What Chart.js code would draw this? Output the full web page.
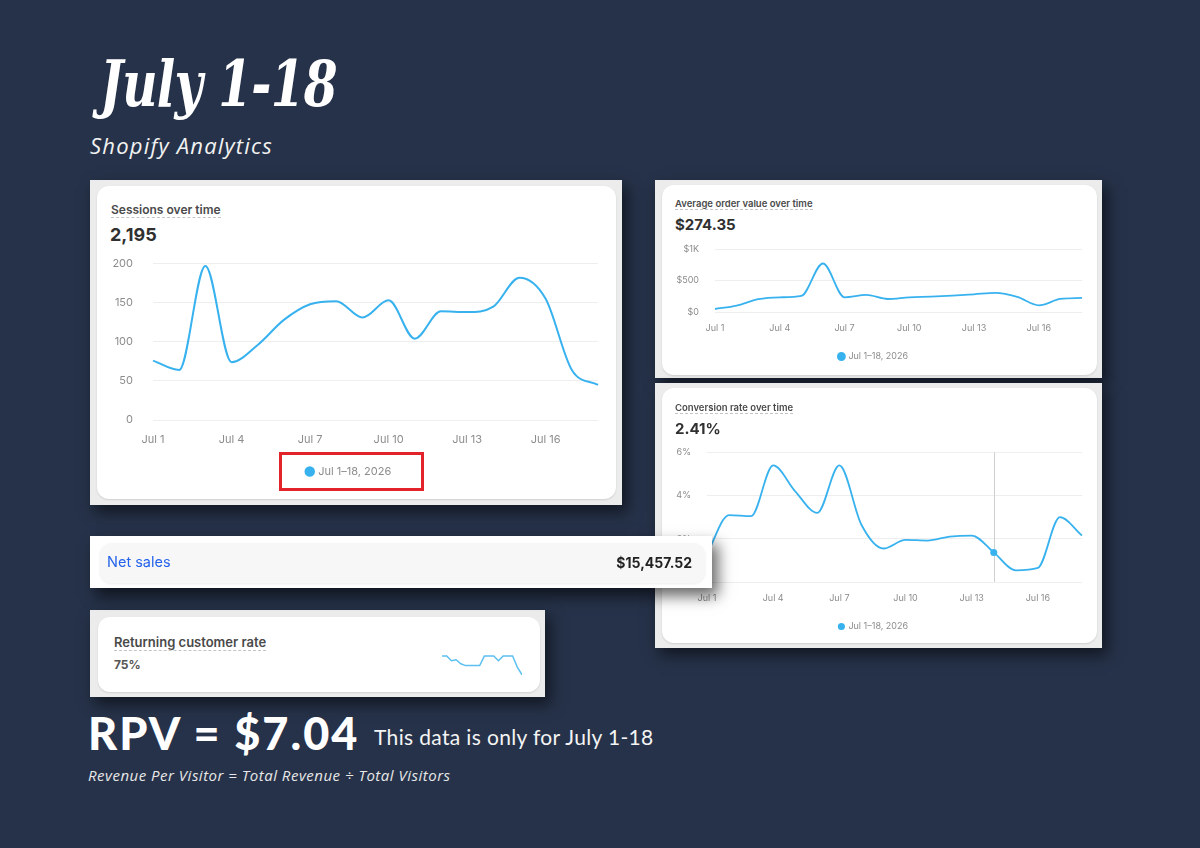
<!DOCTYPE html>
<html>
<head>
<meta charset="utf-8">
<script src="https://cdn.jsdelivr.net/npm/chart.js@4.4.1/dist/chart.umd.min.js"></script>
<style>
  html, body { margin: 0; padding: 0; }
  body { width: 1200px; height: 848px; background: #263249; position: relative; overflow: hidden; font-family: Inter, "Open Sans", sans-serif; }
  .abs { position: absolute; }
  .frame { position: absolute; background: #ececec; box-shadow: 5px 7px 14px rgba(0,0,0,0.55); }
  .card { position: absolute; background: #fff; border-radius: 12px; box-shadow: 0 1px 2px rgba(0,0,0,0.12); }
  .title { position: absolute; color: #4a4a4a; font-weight: 600; border-bottom: 1px dashed #c4c4c4; white-space: nowrap; }
  .big { position: absolute; color: #303030; font-weight: 700; white-space: nowrap; }
  canvas { position: absolute; }
  .page { position: absolute; color: #fff; white-space: nowrap; font-family: Lato, sans-serif; }
</style>
</head>
<body>

<div class="page" style="left:100px; top:46px; font-size:64px; font-style:italic; font-weight:700; letter-spacing:-1px; font-family: 'DejaVu Serif', serif; transform: scaleX(0.76); transform-origin: left;">July 1-18</div>
<div class="page" style="left:90px; top:130px; font-size:22px; letter-spacing:1.2px; font-style:italic; color:#f2f2f2; font-family: 'Open Sans', sans-serif;">Shopify Analytics</div>

<!-- sessions -->
<div class="frame" style="left:90px; top:180px; width:532px; height:325px;"></div>
<div class="card" style="left:97px; top:186px; width:519px; height:313px;"></div>
<div class="title" style="left:111px; top:202px; font-size:12px;">Sessions over time</div>
<div class="big" style="left:110px; top:224px; font-size:18px;">2,195</div>
<canvas id="sessionsChart" width="510" height="254" style="left:100px; top:237px;"></canvas>
<div class="abs" style="left:279px; top:452px; width:139px; height:33px; border:3px solid #e2232a;"></div>

<!-- average order value -->
<div class="frame" style="left:655px; top:180px; width:447px; height:198px;"></div>
<div class="card" style="left:662px; top:185px; width:435px; height:190px;"></div>
<div class="title" style="left:675px; top:198px; font-size:9.5px;">Average order value over time</div>
<div class="big" style="left:675px; top:215px; font-size:15px;">$274.35</div>
<canvas id="aovChart" width="428" height="144" style="left:665px; top:228px;"></canvas>

<!-- conversion rate -->
<div class="frame" style="left:655px; top:383px; width:447px; height:265px;"></div>
<div class="card" style="left:662px; top:388px; width:435px; height:255px;"></div>
<div class="title" style="left:675px; top:402px; font-size:9.5px;">Conversion rate over time</div>
<div class="big" style="left:675px; top:419px; font-size:15px;">2.41%</div>
<canvas id="convChart" width="428" height="211" style="left:665px; top:431px;"></canvas>

<!-- net sales -->
<div class="frame" style="left:90px; top:536px; width:622px; height:52px; background:#fff; z-index:5; box-shadow: 6px 8px 14px rgba(0,0,0,0.6);"></div>
<div class="card" style="left:100px; top:543px; width:605px; height:40px; background:#f7f7f7; z-index:6; box-shadow: 0 1px 3px rgba(0,0,0,0.08);"></div>
<div class="abs" style="left:107px; top:553px; font-size:14.5px; color:#2563eb; z-index:7;">Net sales</div>
<div class="abs" style="right:508px; top:554px; font-size:14px; font-weight:700; color:#222; z-index:7;">$15,457.52</div>

<!-- returning customer rate -->
<div class="frame" style="left:90px; top:610px; width:455px; height:87px;"></div>
<div class="card" style="left:98px; top:617px; width:442px; height:75px;"></div>
<div class="title" style="left:114px; top:634px; font-size:13px;">Returning customer rate</div>
<div class="big" style="left:114px; top:657px; font-size:12px; color:#555;">75%</div>
<canvas id="returnChart" width="80" height="21" style="left:442px; top:655px;"></canvas>

<div class="page" style="left:88px; top:706px; font-size:45px; font-weight:900; letter-spacing:2px;">RPV = $7.04</div>
<div class="page" style="left:374px; top:724px; font-size:21px; letter-spacing:0.35px; color:#f4f4f4;">This data is only for July 1-18</div>
<div class="page" style="left:88px; top:765px; font-size:15px; letter-spacing:0.5px; font-style:italic; color:#e8e8e8; font-family: 'Open Sans', sans-serif;">Revenue Per Visitor = Total Revenue ÷ Total Visitors</div>

<script>
var dayLabels = ["Jul 1", "Jul 2", "Jul 3", "Jul 4", "Jul 5", "Jul 6", "Jul 7", "Jul 8", "Jul 9",
    "Jul 10", "Jul 11", "Jul 12", "Jul 13", "Jul 14", "Jul 15", "Jul 16", "Jul 17", "Jul 18"];
var rangeLabel = "Jul 1\u201318, 2026";

var sessions = [76, 64, 197, 74, 96, 128, 148, 152, 131, 153, 104, 139, 138, 145, 182, 155, 64, 45];
var orderValue = [48, 102, 205, 235, 257, 775, 235, 272, 208, 235, 246, 262, 283, 305, 241, 107, 208, 225];
var conversion = [1.3, 3.1, 3.05, 5.4, 4.2, 3.2, 5.4, 2.65, 1.55, 1.95, 1.92, 2.1, 2.15, 1.37, 0.54, 0.65, 3.0, 2.15];
var returningRate = [80, 80, 75.5, 76.5, 72.6, 70.9, 70.9, 70.9, 70.9, 80, 80, 80, 75.5, 80, 80, 80, 69.5, 62.2];

var hoverIndex = 13;
var lineBlue = "#38b2ef";
var tickGrey = "#8c8c8c";
var gridGrey = "#eeeeee";

function everyThird(val, i) {
    return i % 3 === 0 ? this.getLabelForValue(val) : null;
}

// Sessions
new Chart(document.getElementById("sessionsChart"), {
    type: 'line',
    data: {
        labels: dayLabels,
        datasets: [{
            label: rangeLabel,
            data: sessions,
            borderColor: lineBlue,
            backgroundColor: lineBlue,
            borderWidth: 2,
            pointRadius: 0,
            fill: false,
            cubicInterpolationMode: 'monotone'
        }]
    },
    options: {
        responsive: false,
        animation: false,
        layout: { padding: { top: 0, right: 12, left: 0, bottom: 4 } },
        plugins: {
            tooltip: { enabled: false },
            legend: {
                position: 'bottom',
                labels: { usePointStyle: true, pointStyle: 'circle', boxWidth: 6, boxHeight: 6, color: tickGrey, padding: 10,
                    font: { family: 'Inter', size: 11 } }
            }
        },
        scales: {
            x: {
                grid: { display: false, drawTicks: false },
                border: { display: false },
                ticks: { autoSkip: false, maxRotation: 0, padding: 13, color: tickGrey, font: { family: 'Inter', size: 11 }, callback: everyThird },
                afterFit: function (scale) { scale.height = 36; }
            },
            y: {
                min: 0, max: 200,
                grid: { color: gridGrey, drawTicks: false },
                border: { display: false },
                ticks: { stepSize: 50, padding: 20, color: tickGrey, font: { family: 'Inter', size: 11 } },
                afterFit: function (scale) { scale.width = 53; }
            }
        }
    }
});

// Average order value
new Chart(document.getElementById("aovChart"), {
    type: 'line',
    data: {
        labels: dayLabels,
        datasets: [{
            label: rangeLabel,
            data: orderValue,
            borderColor: lineBlue,
            backgroundColor: lineBlue,
            borderWidth: 1.8,
            pointRadius: 0,
            fill: false,
            cubicInterpolationMode: 'monotone'
        }]
    },
    options: {
        responsive: false,
        animation: false,
        layout: { padding: { top: 4, right: 11, left: 0, bottom: 1 } },
        plugins: {
            tooltip: { enabled: false },
            legend: {
                position: 'bottom',
                labels: { usePointStyle: true, pointStyle: 'circle', boxWidth: 5, boxHeight: 5, color: tickGrey, padding: 10,
                    font: { family: 'Inter', size: 9 } }
            }
        },
        scales: {
            x: {
                grid: { display: false, drawTicks: false },
                border: { display: false },
                ticks: { autoSkip: false, maxRotation: 0, padding: 11, color: tickGrey, font: { family: 'Inter', size: 9 }, callback: everyThird },
                afterFit: function (scale) { scale.height = 30; }
            },
            y: {
                min: 0, max: 1000,
                grid: { color: gridGrey, drawTicks: false },
                border: { display: false },
                ticks: {
                    stepSize: 500, padding: 16, color: tickGrey, font: { family: 'Inter', size: 9 },
                    callback: function (v) { return v >= 1000 ? '$' + (v / 1000) + 'K' : '$' + v; }
                },
                afterFit: function (scale) { scale.width = 50; }
            }
        }
    }
});

// Conversion rate, with the hover line
var hoverLine = {
    id: 'hoverLine',
    beforeDatasetsDraw: function (chart) {
        var x = chart.scales.x.getPixelForValue(hoverIndex);
        var ctx = chart.ctx;
        ctx.save();
        ctx.strokeStyle = "#cfcfcf";
        ctx.lineWidth = 1;
        ctx.beginPath();
        ctx.moveTo(Math.round(x) + 0.5, chart.chartArea.top);
        ctx.lineTo(Math.round(x) + 0.5, chart.chartArea.bottom);
        ctx.stroke();
        ctx.restore();
    }
};

new Chart(document.getElementById("convChart"), {
    type: 'line',
    data: {
        labels: dayLabels,
        datasets: [{
            label: rangeLabel,
            data: conversion,
            borderColor: lineBlue,
            backgroundColor: lineBlue,
            borderWidth: 1.8,
            pointRadius: conversion.map(function (v, i) { return i === hoverIndex ? 3.5 : 0; }),
            pointBorderWidth: 0,
            fill: false,
            cubicInterpolationMode: 'monotone'
        }]
    },
    options: {
        responsive: false,
        animation: false,
        layout: { padding: { top: 3, right: 11, left: 0, bottom: 1 } },
        plugins: {
            tooltip: { enabled: false },
            legend: {
                position: 'bottom',
                labels: { usePointStyle: true, pointStyle: 'circle', boxWidth: 5, boxHeight: 5, color: tickGrey, padding: 10,
                    font: { family: 'Inter', size: 9 } }
            }
        },
        scales: {
            x: {
                grid: { display: false, drawTicks: false },
                border: { display: false },
                ticks: { autoSkip: false, maxRotation: 0, padding: 11, color: tickGrey, font: { family: 'Inter', size: 9 }, callback: everyThird },
                afterFit: function (scale) { scale.height = 30; }
            },
            y: {
                min: 0, max: 6,
                grid: { color: gridGrey, drawTicks: false },
                border: { display: false },
                ticks: { stepSize: 2, padding: 16, color: tickGrey, font: { family: 'Inter', size: 9 },
                    callback: function (v) { return v + '%'; } },
                afterFit: function (scale) { scale.width = 42; }
            }
        }
    },
    plugins: [hoverLine]
});

// Returning customer sparkline
new Chart(document.getElementById("returnChart"), {
    type: 'line',
    data: {
        labels: dayLabels,
        datasets: [{
            data: returningRate,
            borderColor: "#5cc0f0",
            borderWidth: 1.5,
            pointRadius: 0,
            fill: false,
            tension: 0
        }]
    },
    options: {
        responsive: false,
        animation: false,
        layout: { padding: 0 },
        plugins: { legend: { display: false }, tooltip: { enabled: false } },
        scales: {
            x: { display: false },
            y: { display: false, min: 61, max: 81 }
        }
    }
});
</script>
</body>
</html>
